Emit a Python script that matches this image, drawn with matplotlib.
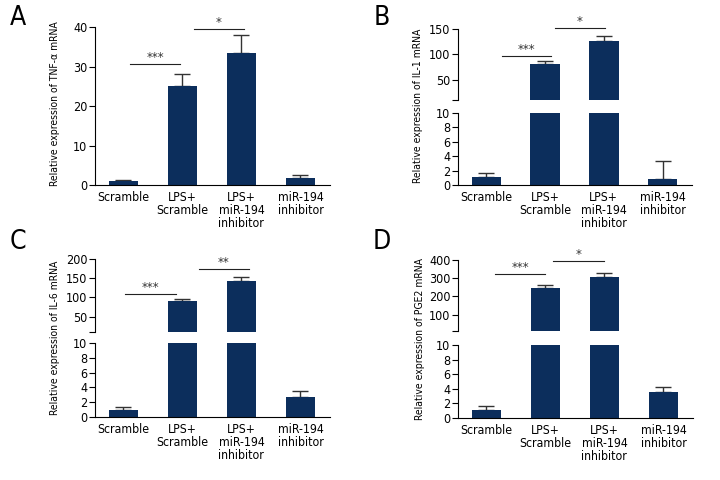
import numpy as np
import matplotlib.pyplot as plt

plt.rcParams['font.family'] = ['Liberation Sans Narrow', 'DejaVu Sans']
plt.rcParams['font.stretch'] = 'condensed'

groups = ["Scramble", "LPS+\nScramble", "LPS+\nmiR-194\ninhibitor", "miR-194\ninhibitor"]

# means and upper error (SD) for each panel
tnf_mean = [1.0, 25.0, 33.3, 1.8]
tnf_err = [0.3, 3.2, 4.7, 0.7]
il1_mean = [1.1, 80, 127, 0.9]
il1_err = [0.5, 6, 9, 2.4]
il6_mean = [0.9, 90, 142, 2.7]
il6_err = [0.4, 7, 11, 0.8]
pge2_mean = [1.1, 245, 305, 3.5]
pge2_err = [0.5, 20, 25, 0.8]

# significance brackets: (x start, x end, y, label)
tnf_sig = [(0.12, 0.96, 30.6, "***"), (1.19, 2.05, 39.5, "*")]
il1_sig = [(0.26, 1.11, 97, "***"), (1.17, 2.02, 152, "*")]
il6_sig = [(0.03, 0.89, 109, "***"), (1.28, 2.12, 174, "**")]
pge2_sig = [(0.14, 1.0, 322, "***"), (1.13, 1.99, 395, "*")]

bar_color = "#0c2e5c"
W, H = 720, 480
fig = plt.figure(figsize=(7.2, 4.8), dpi=100)


def rect(x0, y0, x1, y1):
    return [x0 / W, 1 - y1 / H, (x1 - x0) / W, (y1 - y0) / H]


def draw_bars(ax, mean, err, floor=0):
    x = np.arange(len(mean))
    mean = np.array(mean, float)
    err = np.array(err, float)
    ax.bar(x, mean, width=0.5, color=bar_color, zorder=2)
    keep = mean + err > floor
    ax.errorbar(x[keep], mean[keep], yerr=[np.zeros(keep.sum()), err[keep]], fmt="none",
                ecolor="#333333", elinewidth=1, capsize=6, capthick=1, zorder=1)
    ax.set_xlim(-0.48, 3.5)
    ax.tick_params(axis="y", labelsize=9, length=4, width=0.8, pad=1.5)
    for s in ["top", "right"]:
        ax.spines[s].set_visible(False)
    ax.spines["left"].set_linewidth(0.8)
    ax.spines["bottom"].set_linewidth(0.8)


def sig(ax, items):
    for x1, x2, y, t in items:
        ax.plot([x1, x2], [y, y], color="#222222", lw=0.8, clip_on=False)
        ax.text((x1 + x2) / 2, y, t, ha="center", va="bottom", fontsize=9.5,
                color="#333333", clip_on=False)


def xlabels(ax):
    ax.set_xticks(range(len(groups)))
    ax.set_xticklabels(groups, fontsize=8.8, linespacing=1.0)
    ax.tick_params(axis="x", length=0, pad=4)


# panel A: single axis
axA = fig.add_axes(rect(95, 27, 330, 185))
draw_bars(axA, tnf_mean, tnf_err)
axA.set_ylim(0, 40)
axA.set_yticks([0, 10, 20, 30, 40])
xlabels(axA)
sig(axA, tnf_sig)
fig.text(55 / W, 1 - 104 / H, "Relative expression of TNF-α mRNA", rotation=90,
         ha="center", va="center", fontsize=7.5)


def broken(x0, x1, top_y, mid1, mid2, bot_y, mean, err, top, upticks, label, lx, ly, items):
    up = fig.add_axes(rect(x0, top_y, x1, mid1))
    lo = fig.add_axes(rect(x0, mid2, x1, bot_y))
    draw_bars(up, mean, err, floor=10)
    draw_bars(lo, mean, err)
    up.set_ylim(10, top)
    up.set_yticks([10] + upticks)
    up.set_yticklabels([""] + [str(v) for v in upticks])
    up.spines["bottom"].set_visible(False)
    up.set_xticks([])
    lo.set_ylim(0, 10)
    lo.set_yticks(range(0, 11, 2))
    xlabels(lo)
    sig(up, items)
    fig.text(lx / W, 1 - ly / H, label, rotation=90, ha="center", va="center", fontsize=7.5)


broken(458, 692, 29, 100, 113, 185, il1_mean, il1_err, 150, [50, 100, 150],
       "Relative expression of IL-1 mRNA", 418, 106, il1_sig)
broken(95, 330, 259, 332, 343, 417, il6_mean, il6_err, 200, [50, 100, 150, 200],
       "Relative expression of IL-6 mRNA", 55, 338, il6_sig)
broken(458, 693, 260, 331, 345, 418, pge2_mean, pge2_err, 400, [100, 200, 300, 400],
       "Relative expression of PGE2 mRNA", 420, 339, pge2_sig)

for t, (px, py) in zip("ABCD", [(18, 18), (382, 18), (18, 242), (382, 242)]):
    fig.text(px / W, 1 - py / H, t, fontsize=19, ha="center", va="center")

fig.savefig("out.png", dpi=100)
